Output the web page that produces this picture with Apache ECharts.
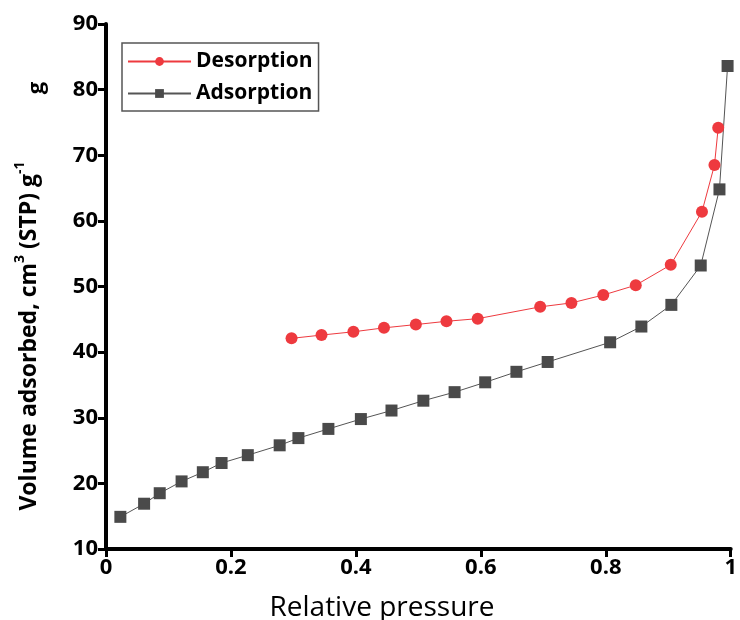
<!DOCTYPE html>
<html><head><meta charset="utf-8">
<script src="https://cdn.jsdelivr.net/npm/echarts@6/dist/echarts.min.js"></script>
<style>html,body{margin:0;padding:0;background:#fff;overflow:hidden}#c{width:740px;height:620px}</style>
</head><body><div id="c"></div>
<script>
const adsX = [0.023,0.061,0.086,0.121,0.155,0.185,0.227,0.278,0.308,0.356,0.408,0.457,0.508,0.558,0.607,0.657,0.707,0.807,0.857,0.905,0.952,0.982,0.995];
const adsY = [14.9,16.9,18.5,20.3,21.7,23.1,24.3,25.8,26.9,28.3,29.8,31.1,32.6,33.9,35.4,37.0,38.5,41.5,43.9,47.2,53.2,64.8,83.6];
const desX = [0.297,0.345,0.396,0.445,0.496,0.545,0.595,0.695,0.745,0.796,0.848,0.904,0.954,0.974,0.980];
const desY = [42.1,42.6,43.1,43.7,44.2,44.7,45.1,46.9,47.5,48.7,50.2,53.3,61.4,68.5,74.2];
const xTicks = [0,0.2,0.4,0.6,0.8,1];
const yTicks = [10,20,30,40,50,60,70,80,90];

const chart = echarts.init(document.getElementById('c'), null, {renderer:'canvas'});
const axisFont = {fontFamily:'Open Sans', fontWeight:'bold', fontSize:22, color:'#000'};
chart.setOption({
  animation:false,
  backgroundColor:'#fff',
  grid:{left:106, right:7, top:24, bottom:71, containLabel:false},
  xAxis:{type:'value', min:xTicks[0], max:xTicks[xTicks.length-1], interval:0.2,
    axisLine:{show:true, onZero:false, lineStyle:{color:'#000', width:4}},
    axisTick:{show:true, length:8, lineStyle:{color:'#000', width:3}},
    axisLabel:Object.assign({margin:8, formatter:v=>String(Math.round(v*10)/10)}, axisFont),
    splitLine:{show:false}},
  yAxis:{type:'value', min:yTicks[0], max:yTicks[yTicks.length-1], interval:10,
    axisLine:{show:true, onZero:false, lineStyle:{color:'#000', width:4}},
    axisTick:{show:true, length:8, lineStyle:{color:'#000', width:3}},
    axisLabel:Object.assign({margin:8}, axisFont),
    splitLine:{show:false}},
  legend:{orient:'vertical', left:122, top:43, padding:[8,6,7,5], itemGap:11,
    itemWidth:63, itemHeight:11, borderColor:'#555', borderWidth:1.5,
    textStyle:{fontFamily:'Open Sans', fontWeight:'bold', fontSize:21, color:'#000'},
    data:['Desorption','Adsorption']},
  graphic:[
    {type:'text', x:382, y:594,
     style:{text:'Relative pressure', align:'center', verticalAlign:'top',
       fontFamily:'Open Sans', fontSize:28, fill:'#000'}},
    {type:'text', x:27, y:336, rotation:Math.PI/2,
     style:{text:'{a|Volume adsorbed, cm}{s|3}{a| (STP) g}{s|-1}', align:'center', verticalAlign:'middle',
       rich:{a:{fontFamily:'Open Sans', fontSize:23, fontWeight:'bold', fill:'#000', lineHeight:28, verticalAlign:'bottom'},
             s:{fontFamily:'Open Sans', fontSize:14, fontWeight:'bold', fill:'#000', lineHeight:28, verticalAlign:'top'}}}},
    {type:'text', x:37, y:88, rotation:Math.PI/2,
     style:{text:'g', align:'center', verticalAlign:'middle', fontFamily:'Open Sans', fontSize:22, fontWeight:'bold', fill:'#000'}}
  ],
  series:[
    {name:'Desorption', type:'line', data:desX.map((x,i)=>[x,desY[i]]),
     symbol:'circle', symbolSize:12, itemStyle:{color:'#ee3a3f'},
     lineStyle:{color:'#ee3a3f', width:1}, z:3},
    {name:'Adsorption', type:'line', data:adsX.map((x,i)=>[x,adsY[i]]),
     symbol:'rect', symbolSize:12, itemStyle:{color:'#4a4a4a'},
     lineStyle:{color:'#555', width:1}, z:2}
  ]
});
</script></body></html>
